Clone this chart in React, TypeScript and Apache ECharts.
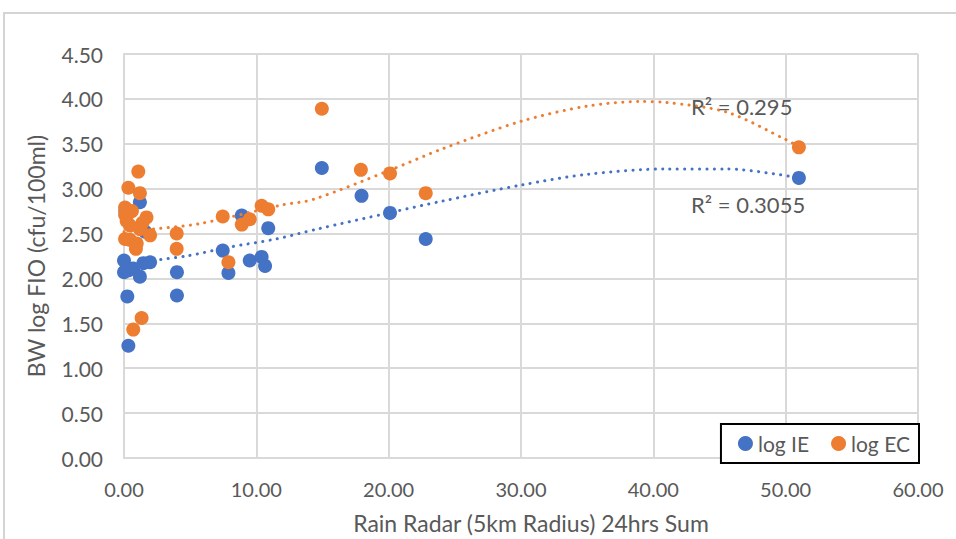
import React, { useEffect, useRef } from "react";
import * as echarts from "echarts";

const ieData: [number, number][] = [
  [0.0, 2.2], [0.0, 2.07], [0.33, 2.09], [0.7, 2.11], [1.2, 2.02], [1.46, 2.17],
  [1.97, 2.18], [0.25, 1.8], [0.33, 1.25], [1.2, 2.85], [0.1, 2.75], [1.6, 2.52],
  [4.0, 2.07], [4.0, 1.81], [7.46, 2.31], [7.89, 2.06], [8.9, 2.7], [9.5, 2.2],
  [10.4, 2.24], [10.66, 2.14], [10.9, 2.56], [14.95, 3.23], [17.95, 2.92],
  [20.1, 2.73], [22.8, 2.44], [51.0, 3.12],
];

const ecData: [number, number][] = [
  [1.08, 3.19], [0.33, 3.01], [1.2, 2.95], [0.08, 2.79], [0.08, 2.71], [0.2, 2.64],
  [0.6, 2.75], [1.7, 2.68], [1.4, 2.62], [0.45, 2.59], [1.2, 2.55], [1.97, 2.48],
  [0.08, 2.44], [0.45, 2.43], [0.96, 2.39], [0.9, 2.33], [1.33, 1.56], [0.7, 1.43],
  [3.98, 2.5], [3.98, 2.33], [7.46, 2.69], [7.89, 2.18], [8.9, 2.6], [9.5, 2.66],
  [10.4, 2.81], [10.9, 2.77], [14.95, 3.89], [17.9, 3.21], [20.1, 3.17],
  [22.8, 2.95], [51.0, 3.46],
];

const ieTrend: [number, number][] = [
  [0, 2.16], [4.7, 2.25], [8, 2.35], [11.5, 2.44], [14.6, 2.55], [20, 2.73],
  [24, 2.86], [30, 3.04], [35, 3.16], [41, 3.22], [45.6, 3.22], [51, 3.12],
];

const ecTrend: [number, number][] = [
  [0, 2.52], [2.2, 2.55], [5.7, 2.61], [12, 2.82], [14.3, 2.88], [20, 3.2],
  [24, 3.44], [30, 3.75], [35, 3.92], [39, 3.97], [41, 3.96], [45.6, 3.85],
  [50.1, 3.54], [51, 3.47],
];

const seriesNames = ["log IE", "log EC"];
const r2Labels = ["R\u00B2 = 0.295", "R\u00B2 = 0.3055"];
const xTitle = "Rain Radar (5km Radius) 24hrs Sum";
const yTitle = "BW log FIO (cfu/100ml)";

const BLUE = "#4472C4";
const ORANGE = "#ED7D31";
const GRAY = "#595959";
const GRID = "#d9d9d9";
const FONT = "Lato, 'Noto Sans', sans-serif";

export default function App() {
  const ref = useRef<HTMLDivElement>(null);
  useEffect(() => {
    document.body.style.margin = "0";
    if (!ref.current) return;
    const chart = echarts.init(ref.current, undefined, { renderer: "svg" });
    const dotted = (color: string) => ({
      color,
      width: 3,
      type: [0.1, 7.3] as any,
      cap: "round" as any,
    });
    chart.setOption({
      animation: false,
      backgroundColor: "#fff",
      grid: { left: 124, right: 38, top: 54, bottom: 75 },
      xAxis: {
        type: "value",
        min: 0,
        max: 60,
        interval: 10,
        name: xTitle,
        nameLocation: "middle",
        nameGap: 53,
        nameTextStyle: { color: GRAY, fontSize: 23, fontFamily: FONT, padding: [0, 0, 0, 20] },
        axisLine: { show: true, lineStyle: { color: GRID, width: 2 } },
        axisTick: { show: false },
        splitLine: { show: true, lineStyle: { color: GRID, width: 2 } },
        axisLabel: {
          color: GRAY,
          fontSize: 20,
          fontFamily: FONT,
          margin: 21,
          formatter: (v: number) => v.toFixed(2),
        },
      },
      yAxis: {
        type: "value",
        min: 0,
        max: 4.5,
        interval: 0.5,
        name: yTitle,
        nameLocation: "middle",
        nameGap: 77,
        nameTextStyle: { color: GRAY, fontSize: 23, fontFamily: FONT },
        axisLine: { show: true, lineStyle: { color: GRID, width: 2 } },
        axisTick: { show: false },
        splitLine: { show: true, lineStyle: { color: GRID, width: 2 } },
        axisLabel: {
          color: GRAY,
          fontSize: 21,
          fontFamily: FONT,
          margin: 21,
          formatter: (v: number) => v.toFixed(2),
        },
      },
      legend: {
        data: seriesNames,
        right: 37,
        bottom: 76,
        icon: "circle",
        itemWidth: 15,
        itemHeight: 15,
        itemGap: 22,
        padding: [9, 9, 9, 17],
        borderColor: "#000",
        borderWidth: 2,
        backgroundColor: "#fff",
        textStyle: { color: GRAY, fontSize: 21, fontFamily: FONT },
      },
      series: [
        {
          name: seriesNames[0],
          type: "scatter",
          data: ieData,
          symbolSize: 14,
          itemStyle: { color: BLUE, opacity: 1 },
          z: 2,
        },
        {
          name: seriesNames[1],
          type: "scatter",
          data: ecData,
          symbolSize: 14,
          itemStyle: { color: ORANGE, opacity: 1 },
          z: 3,
        },
        {
          name: "ieTrend",
          type: "line",
          data: ieTrend,
          smooth: 0.3,
          showSymbol: false,
          silent: true,
          lineStyle: dotted(BLUE),
          z: 4,
        },
        {
          name: "ecTrend",
          type: "line",
          data: ecTrend,
          smooth: 0.3,
          showSymbol: false,
          silent: true,
          lineStyle: dotted(ORANGE),
          z: 4,
        },
      ],
      graphic: [
        {
          type: "rect",
          shape: { x: 4, y: 13, width: 1000, height: 600 },
          style: { fill: "none", stroke: "#d4d4d4", lineWidth: 2 },
          silent: true,
          z: -1,
        },
        {
          type: "text",
          left: 691,
          top: 95,
          style: { text: r2Labels[0], fill: GRAY, fontSize: 22, fontFamily: FONT },
          z: 10,
        },
        {
          type: "text",
          left: 691,
          top: 193,
          style: { text: r2Labels[1], fill: GRAY, fontSize: 22, fontFamily: FONT },
          z: 10,
        },
      ],
    });
    return () => chart.dispose();
  }, []);
  return <div ref={ref} style={{ width: 956, height: 539 }} />;
}
